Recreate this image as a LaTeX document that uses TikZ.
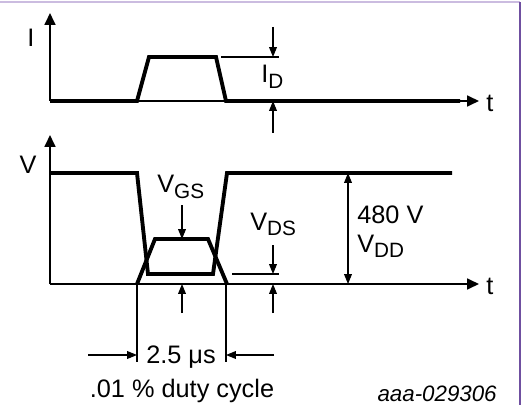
\documentclass[tikz,border=0pt]{standalone}
\usepackage{fontspec}
\setmainfont{Liberation Sans}
\usetikzlibrary{positioning, arrows.meta}
\definecolor{marcoclaro}{HTML}{CBBCE0}
\definecolor{marcooscuro}{HTML}{6F4FA0}
\newcommand{\subind}[1]{\raisebox{-3.1pt}{\fontsize{11.8}{12}\selectfont #1}}

\begin{document}
\begin{tikzpicture}[
        x=0.02cm, y=-0.02cm,
        font=\fontsize{14.4}{16}\selectfont,
        % Estilo de los ejes
        eje/.style={line width=1.1pt, -{Triangle[length=6.8pt, width=6.2pt]}},
        % Formas de onda
        onda/.style={line width=2.2pt, line join=miter},
        % Lineas finas de referencia
        fina/.style={line width=0.6pt},
        cota/.style={line width=0.6pt, -{Triangle[length=5.6pt, width=4.4pt]}},
        cotados/.style={line width=0.6pt, {Triangle[length=5.6pt, width=4.4pt]}-{Triangle[length=5.6pt, width=4.4pt]}},
        etiqueta/.style={inner sep=0pt, anchor=base west}
    ]
    \useasboundingbox (0,0) rectangle (523,405);

    % Marco (solo arriba y a la derecha)
    \draw[marcoclaro, line width=1pt] (0,2) -- (520,2);
    \draw[marcooscuro, line width=1.1pt] (520,2) -- (520,405);

    % 1. Grafica de corriente
    \coordinate (origenI) at (50,101);
    \coordinate (topeI) at (50,13);
    \coordinate (finI) at (479,101);
    \draw[eje] (origenI) -- (topeI);
    \draw[eje] (origenI) -- (finI);
    \node[inner sep=0pt] (ejeI) at (31,38) {I};
    \node[inner sep=0pt] (tI) at (490,103) {t};

    \draw[onda] (50,101) -- (137,101) -- (149,57) -- (216,57) -- (226,101) -- (460,101);

    % Cota de I_D
    \coordinate (refID) at (221,57);
    \coordinate (refIDfin) at (279,57);
    \coordinate (flechaIDa) at (273,27);
    \coordinate (puntaIDa) at (273,57);
    \coordinate (flechaIDb) at (273,133);
    \coordinate (puntaIDb) at (273,101);
    \draw[fina] (refID) -- (refIDfin);
    \draw[cota] (flechaIDa) -- (puntaIDa);
    \draw[cota] (flechaIDb) -- (puntaIDb);
    \node[etiqueta] (ID) at (261,83) {I\subind{D}};

    % 2. Grafica de tension
    \coordinate (origenV) at (50,284);
    \coordinate (topeV) at (50,135);
    \coordinate (finV) at (479,284);
    \draw[eje] (origenV) -- (topeV);
    \draw[eje] (origenV) -- (finV);
    \node[inner sep=0pt] (ejeV) at (28,165) {V};
    \node[inner sep=0pt] (tV) at (490,286) {t};

    % V_DS y V_GS
    \draw[onda] (50,173) -- (137,173) -- (148,274) -- (213,274) -- (227,173) -- (452,173);
    \draw[onda] (137,284) -- (155,239) -- (208,239) -- (227,284);

    % Cota de V_GS
    \coordinate (flechaGSa) at (182,205);
    \coordinate (puntaGSa) at (182,239);
    \coordinate (flechaGSb) at (182,313);
    \coordinate (puntaGSb) at (182,284);
    \draw[cota] (flechaGSa) -- (puntaGSa);
    \draw[cota] (flechaGSb) -- (puntaGSb);
    \node[etiqueta] (VGS) at (157,193) {V\subind{GS}};

    % Cota de V_DS
    \coordinate (refDS) at (232,274);
    \coordinate (refDSfin) at (279,274);
    \coordinate (flechaDSa) at (273,245);
    \coordinate (puntaDSa) at (273,274);
    \coordinate (flechaDSb) at (273,313);
    \coordinate (puntaDSb) at (273,284);
    \draw[fina] (refDS) -- (refDSfin);
    \draw[cota] (flechaDSa) -- (puntaDSa);
    \draw[cota] (flechaDSb) -- (puntaDSb);
    \node[etiqueta] (VDS) at (250,230) {V\subind{DS}};

    % Cota de V_DD
    \coordinate (altoDD) at (348,173);
    \coordinate (bajoDD) at (348,284);
    \draw[cotados] (altoDD) -- (bajoDD);
    \node[etiqueta] (tension) at (357,223) {480 V};
    \node[etiqueta] (VDD) at (357,252) {V\subind{DD}};

    % 3. Ancho del pulso
    \coordinate (pulsoA) at (137,284);
    \coordinate (pulsoAbajo) at (137,362);
    \coordinate (pulsoB) at (226,284);
    \coordinate (pulsoBbajo) at (226,362);
    \coordinate (entraA) at (88,355);
    \coordinate (llegaA) at (137,355);
    \coordinate (entraB) at (274,355);
    \coordinate (llegaB) at (226,355);
    \draw[fina] (pulsoA) -- (pulsoAbajo);
    \draw[fina] (pulsoB) -- (pulsoBbajo);
    \draw[cota] (entraA) -- (llegaA);
    \draw[cota] (entraB) -- (llegaB);
    \node[inner sep=0pt, anchor=base] (ancho) at (181,363) {2.5 μs};
    \node[inner sep=0pt, anchor=base] (ciclo) at (182,397) {.01 \% duty cycle};

    \node[inner sep=0pt, anchor=base east, font=\fontsize{12.7}{14}\selectfont\itshape] (codigo) at (497,401) {aaa-029306};

\end{tikzpicture}
\end{document}
